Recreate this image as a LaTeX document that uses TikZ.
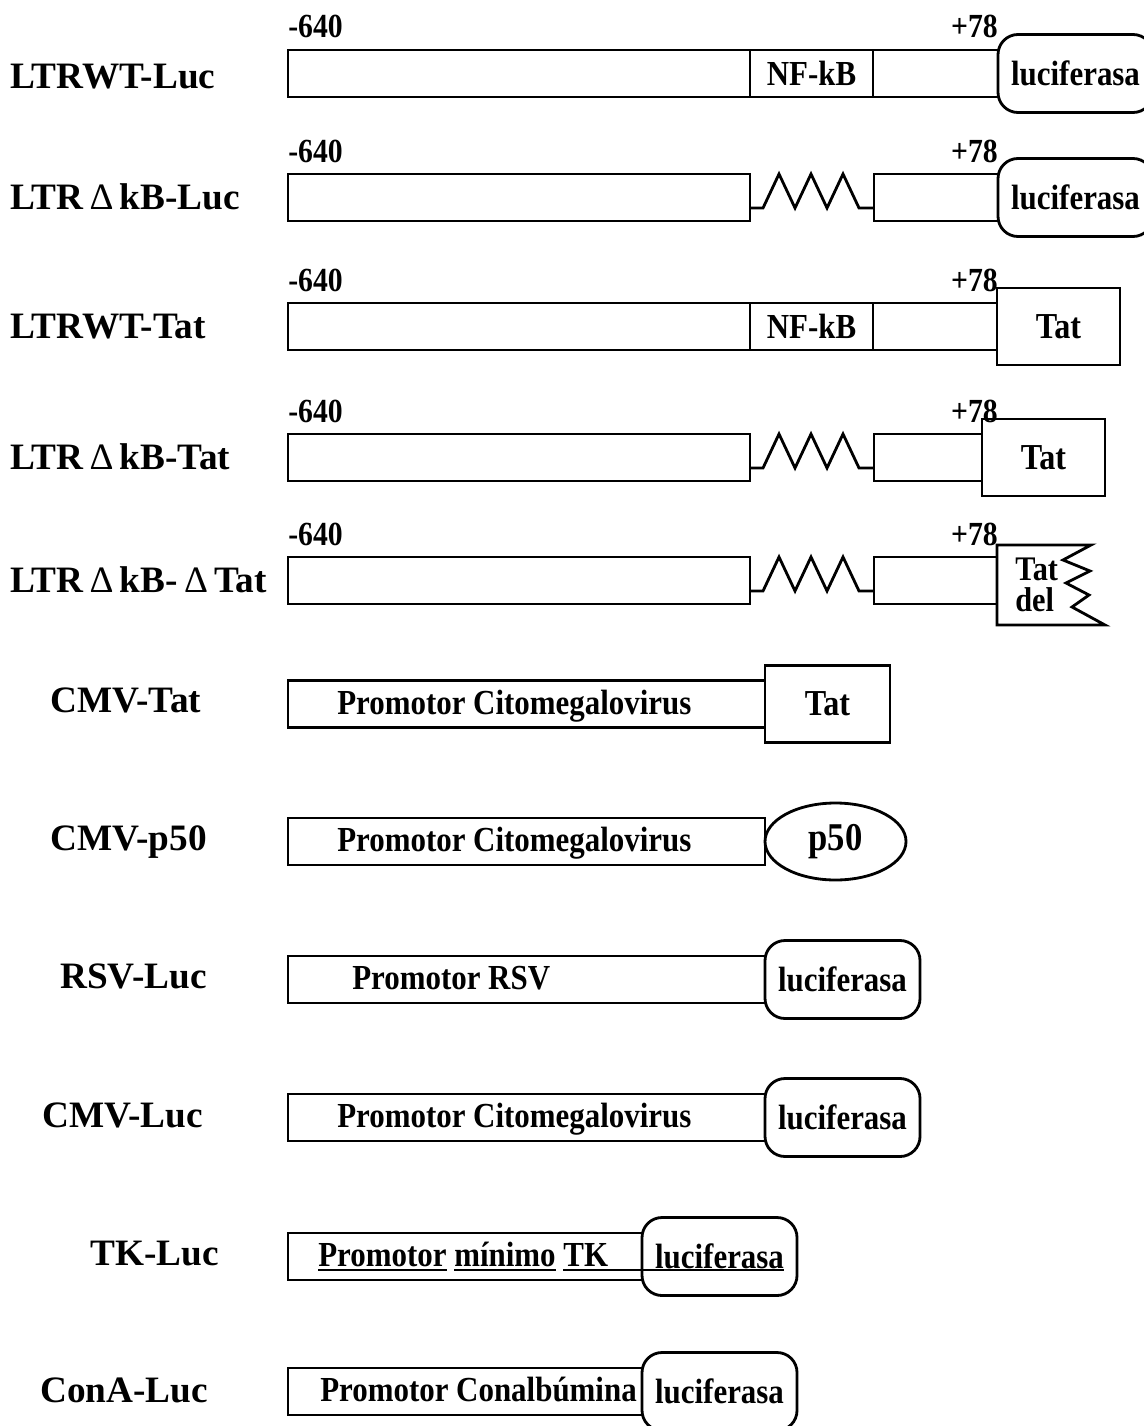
\documentclass[tikz,border=0pt]{standalone}
\usepackage{fontspec}
\setmainfont{Liberation Serif}
\newfontfamily\condfont[FakeStretch=0.88]{Liberation Serif}
\usetikzlibrary{positioning,calc,shapes.geometric}
\newcommand{\ulword}[1]{\setbox0\hbox{#1}\rlap{\rule[-3.2pt]{\wd0}{1.3pt}}\box0\relax}
\tikzset{
    lab/.style={anchor=base west,inner sep=0pt,font=\fontsize{26.5}{28}\selectfont\bfseries},
    num/.style={inner sep=0pt,yshift=3mm,font=\condfont\fontsize{24}{26}\selectfont\bfseries},
    txt/.style={anchor=base west,inner sep=0pt,font=\condfont\fontsize{25}{27}\selectfont\bfseries},
    prom/.style={draw,line width=2pt,outer sep=0pt,inner sep=0pt,minimum height=11.75mm,font=\condfont\fontsize{25}{27}\selectfont\bfseries},
    luc/.style={draw,fill=white,line width=2pt,rounded corners=5mm,outer sep=0pt,minimum width=38.75mm,minimum height=19.5mm,font=\condfont\fontsize{25}{27}\selectfont\bfseries},
    tat/.style={draw,fill=white,line width=2pt,outer sep=0pt,minimum width=30.75mm,minimum height=19.25mm,font=\condfont\fontsize{26}{27}\selectfont\bfseries},
    zig/.style={line width=2pt},
}
\begin{document}
\begin{tikzpicture}[x=0.25mm,y=-0.25mm,uline/.style={line width=1.3pt}]
\useasboundingbox (0,0) rectangle (1144,1426);
% --- LTRWT-Luc ---
    \node[lab] (n1) at (10,88) {LTRWT-Luc};
    \node[prom,minimum width=115.5mm,anchor=west] (p1a) at (288,73.5) {};
    \node[prom,minimum width=30.75mm,right=0pt of p1a] (nf1) {NF-kB};
    \node[prom,minimum width=31.25mm,right=0pt of nf1] (p1b) {};
    \node[luc,right=0pt of p1b] (luc1) {luciferasa};
    \node[num,anchor=base west] (a1) at (p1a.north west) {-640};
    \node[num,anchor=base east] (b1) at (p1b.north east) {+78};
% --- LTR delta kB-Luc ---
    \node[lab] (n2) at (10,209) {LTR\,{\mdseries Δ}\,kB-Luc};
    \node[prom,minimum width=115.5mm,anchor=west] (p2a) at (288,197.5) {};
    \node[prom,minimum width=31mm,anchor=west] (p2b) at (874,197.5) {};
    \node[luc,right=0pt of p2b] (luc2) {luciferasa};
    \node[num,anchor=base west] (a2) at (p2a.north west) {-640};
    \node[num,anchor=base east] (b2) at (p2b.north east) {+78};
    \draw[zig] ($(p2a.south east)+(0,-13)$) -- ++(13,0) -- ++(16,-34) -- ++(16,34) -- ++(16,-34) -- ++(16,34) -- ++(16,-34) -- ++(16,34) -- ($(p2b.south west)+(0,-13)$);
% --- LTRWT-Tat ---
    \node[lab] (n3) at (10,338) {LTRWT-Tat};
    \node[prom,minimum width=115.5mm,anchor=west] (p3a) at (288,326.5) {};
    \node[prom,minimum width=30.75mm,right=0pt of p3a] (nf3) {NF-kB};
    \node[prom,minimum width=31mm,right=0pt of nf3] (p3b) {};
    \node[tat,right=0pt of p3b] (tat3) {Tat};
    \node[num,anchor=base west] (a3) at (p3a.north west) {-640};
    \node[num,anchor=base east] (b3) at ($(p3b.north east)+(1,0)$) {+78};
% --- LTR delta kB-Tat ---
    \node[lab] (n4) at (10,469) {LTR\,{\mdseries Δ}\,kB-Tat};
    \node[prom,minimum width=115.5mm,anchor=west] (p4a) at (288,457.5) {};
    \node[prom,minimum width=27mm,anchor=west] (p4b) at (874,457.5) {};
    \node[tat,right=0pt of p4b] (tat4) {Tat};
    \node[num,anchor=base west] (a4) at (p4a.north west) {-640};
    \node[num,anchor=base east] (b4) at ($(p4b.north east)+(16,0)$) {+78};
    \draw[zig] ($(p4a.south east)+(0,-13)$) -- ++(13,0) -- ++(16,-34) -- ++(16,34) -- ++(16,-34) -- ++(16,34) -- ++(16,-34) -- ++(16,34) -- ($(p4b.south west)+(0,-13)$);
% --- LTR delta kB-delta Tat ---
    \node[lab] (n5) at (10,592) {LTR\,{\mdseries Δ}\,kB-\,{\mdseries Δ}\,Tat};
    \node[prom,minimum width=115.5mm,anchor=west] (p5a) at (288,580.5) {};
    \node[prom,minimum width=30.75mm,anchor=west] (p5b) at (874,580.5) {};
    \node[num,anchor=base west] (a5) at (p5a.north west) {-640};
    \node[num,anchor=base east] (b5) at ($(p5b.north east)+(1,0)$) {+78};
    \draw[zig] ($(p5a.south east)+(0,-13)$) -- ++(13,0) -- ++(16,-34) -- ++(16,34) -- ++(16,-34) -- ++(16,34) -- ++(16,-34) -- ++(16,34) -- ($(p5b.south west)+(0,-13)$);
% Truncated Tat
    \draw[zig,fill=white] (997,545) -- (1091,545) -- (1063,560) -- (1090,571) -- (1066,583) -- (1089,595) -- (1072,607) -- (1105,625) -- (997,625) -- cycle;
    \node[inner sep=0pt,anchor=west,align=left,font=\condfont\fontsize{24.5}{22}\selectfont\bfseries] (tdel) at (1015,585) {Tat\\del};
% --- CMV-Tat ---
    \node[lab] (n6) at (50,712) {CMV-Tat};
    \node[prom,minimum width=119.25mm,anchor=west] (c6) at (288,704) {};
    \node[tat,minimum width=31.25mm,right=0pt of c6] (tat6) {Tat};
    \node[txt] (t6) at (337,714) {Promotor Citomegalovirus};
% --- CMV-p50 ---
    \node[lab] (n7) at (50,850) {CMV-p50};
    \node[prom,minimum width=119.25mm,anchor=west] (c7) at (288,841.5) {};
    \node[draw,ellipse,fill=white,line width=2pt,outer sep=0pt,inner sep=0pt,minimum width=35.25mm,minimum height=19.25mm,right=0pt of c7,font=\condfont\fontsize{28}{29}\selectfont\bfseries] (p50) {p50};
    \node[txt] (t7) at (337,851.5) {Promotor Citomegalovirus};
% --- RSV-Luc ---
    \node[lab] (n8) at (60,988) {RSV-Luc};
    \node[prom,minimum width=119.25mm,anchor=west] (c8) at (288,979.5) {};
    \node[luc,right=0pt of c8] (luc8) {luciferasa};
    \node[txt] (t8) at (352,989.5) {Promotor RSV};
% --- CMV-Luc ---
    \node[lab] (n9) at (42,1127) {CMV-Luc};
    \node[prom,minimum width=119.25mm,anchor=west] (c9) at (288,1117.5) {};
    \node[luc,right=0pt of c9] (luc9) {luciferasa};
    \node[txt] (t9) at (337,1127.5) {Promotor Citomegalovirus};
% --- TK-Luc ---
    \node[lab] (n10) at (90,1265) {TK-Luc};
    \node[prom,minimum width=88.5mm,anchor=west] (c10) at (288,1256.5) {};
    \node[luc,right=0pt of c10] (luc10) {luciferasa};
    \node[txt] (t10) at (318,1266.5) {\ulword{Promotor} \ulword{mínimo} \ulword{TK}};
    \draw[uline] ($(t10.base east)+(0,3.6)$) -- ($(t10.base east -| luc10.base)+(64,3.6)$);
% --- ConA-Luc ---
    \node[lab] (n11) at (40,1402) {ConA-Luc};
    \node[prom,minimum width=88.5mm,anchor=west] (c11) at (288,1391.5) {};
    \node[luc,right=0pt of c11] (luc11) {luciferasa};
    \node[txt] (t11) at (320,1401.5) {Promotor Conalbúmina};
\end{tikzpicture}
\end{document}
